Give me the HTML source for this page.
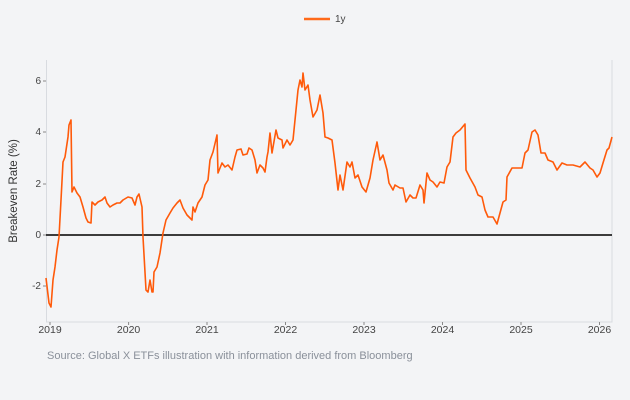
<!DOCTYPE html>
<html><head><meta charset="utf-8"><style>
html,body{margin:0;padding:0;background:#f3f4f6;}
body{width:630px;height:400px;overflow:hidden;font-family:"Liberation Sans",sans-serif;}
</style></head><body>
<svg width="630" height="400" xmlns="http://www.w3.org/2000/svg" style="display:block">
<rect width="630" height="400" fill="#f3f4f6"/>
<line x1="304" y1="19" x2="330" y2="19" stroke="#ff6a1a" stroke-width="2.5"/>
<text x="335" y="22" font-size="10" fill="#444">1y</text>
<path d="M46.5 60 V322 H612 V60" fill="none" stroke="#d8dbe0" stroke-width="1"/>
<g font-size="10" fill="#444" text-anchor="end">
<text x="41" y="84">6</text><text x="41" y="135">4</text><text x="41" y="187">2</text><text x="41" y="238">0</text><text x="41" y="289">-2</text>
</g>
<g stroke="#888" stroke-width="1">
<line x1="43" y1="81" x2="46" y2="81"/><line x1="43" y1="132" x2="46" y2="132"/><line x1="43" y1="184" x2="46" y2="184"/><line x1="43" y1="235" x2="46" y2="235"/><line x1="43" y1="286" x2="46" y2="286"/>
<line x1="50" y1="322" x2="50" y2="325"/><line x1="128.6" y1="322" x2="128.6" y2="325"/><line x1="207" y1="322" x2="207" y2="325"/><line x1="285.5" y1="322" x2="285.5" y2="325"/><line x1="364" y1="322" x2="364" y2="325"/><line x1="442.5" y1="322" x2="442.5" y2="325"/><line x1="521" y1="322" x2="521" y2="325"/><line x1="599.5" y1="322" x2="599.5" y2="325"/>
</g>
<g font-size="10.5" fill="#444" text-anchor="middle">
<text x="50" y="333">2019</text><text x="128.6" y="333">2020</text><text x="207" y="333">2021</text><text x="285.5" y="333">2022</text><text x="364" y="333">2023</text><text x="442.5" y="333">2024</text><text x="521" y="333">2025</text><text x="599.5" y="333">2026</text>
</g>
<text transform="translate(17,191) rotate(-90)" font-size="11.5" fill="#333" text-anchor="middle">Breakeven Rate (%)</text>
<text x="47" y="359" font-size="11" fill="#8a909a">Source: Global X ETFs illustration with information derived from Bloomberg</text>
<line x1="46" y1="235" x2="612" y2="235" stroke="#222" stroke-width="1.8"/>
<polyline fill="none" stroke="#ff5a0a" stroke-width="1.6" stroke-linejoin="round" points="46,278 49,303 51,307 53,280 55,267 57,250 59,237 61,200 63,162 65,157 68,137 69,125 71,120 72,192 74,187 77,193 80,197 83,207 86,218 88,222 91,223 92,202 95,205 98,202 102,200 105,197 107,203 110,207 113,205 117,203 120,203 123,200 128,197 132,198 135,205 137,197 139,194 142,207 143,237 146,290 148,292 150,280 152,292 153,292 154,272 157,267 160,253 163,233 166,220 170,213 173,208 177,203 180,200 183,208 187,215 190,218 192,220 193,207 195,212 198,203 202,197 205,185 208,180 210,160 213,152 217,135 218,173 222,163 225,167 228,165 232,170 235,157 237,150 241,149 243,155 247,154 249,148 252,150 255,160 257,173 260,165 263,168 265,172 267,157 268,152 270,133 272,153 276,130 278,138 282,140 283,148 287,140 290,145 293,140 295,120 298,90 300,80 302,87 303,73 305,90 308,85 310,100 313,117 317,110 320,95 323,113 325,137 328,138 332,140 335,163 338,190 340,175 343,190 347,162 350,167 352,162 355,178 358,175 362,187 366,192 370,178 373,160 377,142 380,160 383,155 387,170 389,183 393,190 395,185 400,188 403,188 406,202 410,195 413,198 416,198 420,185 423,190 424,203 427,173 430,180 433,182 437,187 440,182 444,183 447,167 450,162 453,137 456,133 460,130 465,124 466,170 470,178 475,187 478,195 482,197 485,210 488,217 493,217 497,224 500,213 503,202 506,200 507,177 512,168 517,168 522,168 525,153 528,150 532,132 535,130 538,135 541,153 545,153 548,160 553,162 557,170 562,163 567,165 573,165 580,167 585,162 590,168 593,170 597,177 600,173 603,163 607,150 609,148 612,137"/>
</svg>
</body></html>
